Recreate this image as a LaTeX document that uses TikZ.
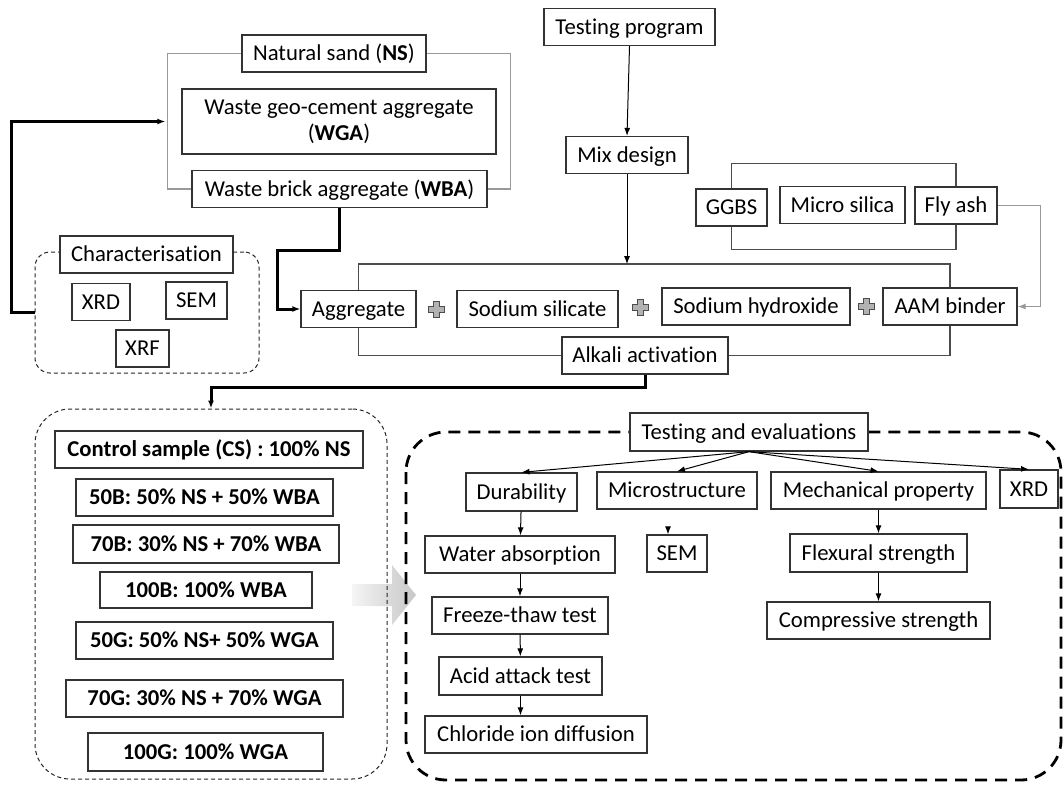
\documentclass[tikz,border=0pt]{standalone}
\usepackage{fontspec}
\setmainfont{Carlito}[Ligatures=NoCommon]
\usetikzlibrary{arrows.meta,calc}

\begin{document}
\begin{tikzpicture}[x=1pt,y=-1pt]
\tikzset{
	frame/.style={draw=black!80, line width=1.3, fill=white, minimum height=37, inner sep=1,
		font=\fontsize{22.7}{26}\selectfont},
	box/.style={frame, text height=16, text depth=1.4},
	sbox/.style={box, font=\fontsize{22.7}{26}\selectfont\bfseries},
	arr/.style={draw, line width=1, ->},
	heavy/.style={draw, line width=3, ->},
	lightbr/.style={draw=black!40, line width=1.2},
	darkbr/.style={draw=black!70, line width=1.5},
	thinframe/.style={draw=black!85, dash pattern=on 4 off 3, line width=1, rounded corners=15},
	bigframe/.style={draw, dash pattern=on 12 off 8, line width=2.8, rounded corners=40},
	plussign/.pic={\draw[fill=black!30, draw=black!70, line width=0.8]
		(-3,-8) -- (3,-8) -- (3,-3) -- (8,-3) -- (8,3) -- (3,3) -- (3,8)
		-- (-3,8) -- (-3,3) -- (-8,3) -- (-8,-3) -- (-3,-3) -- cycle;},
	>={Latex[length=8,width=6]}
}
\useasboundingbox (0,0) rectangle (1063,785);

\shade[left color=black!4, right color=black!22] (352,584) -- (392,584) -- (392,565)
	-- (416,595) -- (392,625) -- (392,606) -- (352,606) -- cycle;

\node[thinframe, minimum width=224, minimum height=121] (charfr) at (147,312.5) {};
\node[thinframe, minimum width=352, minimum height=370, rounded corners=35] (samples) at (211,594) {};
\draw[bigframe] (406,432) rectangle (1061,780);

\node[box, minimum width=184] (ns) at (334,53.5) {Natural sand (\textbf{NS})};
\node[frame, minimum width=314, minimum height=65, align=center] (wga) at (339,121.5)
	{Waste geo-cement aggregate\\(\textbf{WGA})};
\node[box, minimum width=295] (wba) at (339.5,189) {Waste brick aggregate (\textbf{WBA})};
\draw[lightbr] (ns.west) -| ([xshift=-24]wba.west) -- (wba.west);
\draw[lightbr] (ns.east) -| ([xshift=23]wba.east) -- (wba.east);

\node[box, minimum width=173] (char) at (146.5,254.5) {Characterisation};
\node[box, minimum width=58] (xrdc) at (101,302) {XRD};
\node[box, minimum width=61] (semc) at (196.5,300.5) {SEM};
\node[box, minimum width=53] (xrf) at (142.5,348.5) {XRF};
\draw[heavy] (charfr.west) -- ++(-23,0) |- ([xshift=-16]wga.west);

\node[box, minimum width=171] (tp) at (629.5,27) {Testing program};
\node[box, minimum width=122] (mix) at (627,155) {Mix design};
\draw[arr] (tp.south) -- (mix.north);
\draw[arr] (mix.south) -- ++(0,90);

\node[box, minimum width=71] (ggbs) at (731.5,207.5) {GGBS};
\node[box, minimum width=125] (ms) at (842.5,205) {Micro silica};
\node[box, minimum width=82] (fa) at (956,205.5) {Fly ash};
\draw[darkbr] (ggbs.north) -- ++(0,-25) -| (fa.north);
\draw[darkbr] (ggbs.south) -- ++(0,23) -| (fa.south);

\node[box, minimum width=115] (agg) at (358.5,309) {Aggregate};
\node[box, minimum width=161] (ss) at (537.5,309) {Sodium silicate};
\node[box, minimum width=188] (sh) at (756,306.5) {Sodium hydroxide};
\node[box, minimum width=134] (aam) at (950,306.5) {AAM binder};
\node[box, minimum width=166] (alk) at (645,355.5) {Alkali activation};
\pic at ($(agg.east)!0.5!(ss.west)$) {plussign};
\pic at ($(ss.east)!0.5!(sh.west)$) {plussign};
\pic at ($(sh.east)!0.5!(aam.west)$) {plussign};
\draw[darkbr] (agg.north) -- ++(0,-26) -| (aam.north);
\draw[darkbr] (agg.south) |- (alk.west);
\draw[darkbr] (aam.south) |- (alk.east);
\draw[lightbr, ->] (fa.east) -- ++(43,0) |- (aam.east);
\draw[heavy] (wba.south) -- ++(0,42) -| ([xshift=-23]agg.west) -- (agg.west);
\draw[heavy] (alk.south) -- ++(0,13) -| (samples.north);

\node[sbox, minimum width=308] (cs) at (209,449.5) {Control sample (CS) : 100\% NS};
\node[sbox, minimum width=257] (b50) at (204.5,497.5) {50B: 50\% NS + 50\% WBA};
\node[sbox, minimum width=266, minimum height=38] (b70) at (206,544) {70B: 30\% NS + 70\% WBA};
\node[sbox, minimum width=212, minimum height=36] (b100) at (206,590) {100B: 100\% WBA};
\node[sbox, minimum width=257] (g50) at (204.5,640.5) {50G: 50\% NS+ 50\% WGA};
\node[sbox, minimum width=277] (g70) at (204.5,698.5) {70G: 30\% NS + 70\% WGA};
\node[sbox, minimum width=235, minimum height=38] (g100) at (205.5,752) {100G: 100\% WGA};

\node[box, minimum width=238, minimum height=38] (te) at (749,432) {Testing and evaluations};
\node[box, minimum width=111, minimum height=38] (dur) at (521.5,492) {Durability};
\node[box, minimum width=160] (micro) at (677,490.5) {Microstructure};
\node[box, minimum width=215] (mech) at (878.5,490.5) {Mechanical property};
\node[box, minimum width=58, minimum height=38] (xrdt) at (1029,489) {XRD};
\node[box, minimum width=190] (wa) at (520,554.5) {Water absorption};
\node[box, minimum width=60] (semt) at (677,553.5) {SEM};
\node[box, minimum width=177, minimum height=38] (fs) at (878.5,553) {Flexural strength};
\node[box, minimum width=223] (cmp) at (878.5,620.5) {Compressive strength};
\node[box, minimum width=176] (ft) at (520,615.5) {Freeze-thaw test};
\node[box, minimum width=163, minimum height=38] (aa) at (520.5,676) {Acid attack test};
\node[box, minimum width=222] (cid) at (536,734.5) {Chloride ion diffusion};

\draw[arr] (te.south) -- (dur.north);
\draw[arr] (te.south) -- (micro.north);
\draw[arr] (te.south) -- (mech.north);
\draw[arr] (te.south) -- (xrdt.north);
\draw[arr] (dur) -- (wa);
\draw[arr] (wa) -- (ft);
\draw[arr] (ft) -- (aa);
\draw[arr] (aa.south) -- (aa.south |- cid.north);
\draw[arr] (mech) -- (fs);
\draw[arr] (fs) -- (cmp);
\draw[arr] ([xshift=-9,yshift=5]semt.north) -- ([xshift=-9]semt.north);
\end{tikzpicture}
\end{document}
